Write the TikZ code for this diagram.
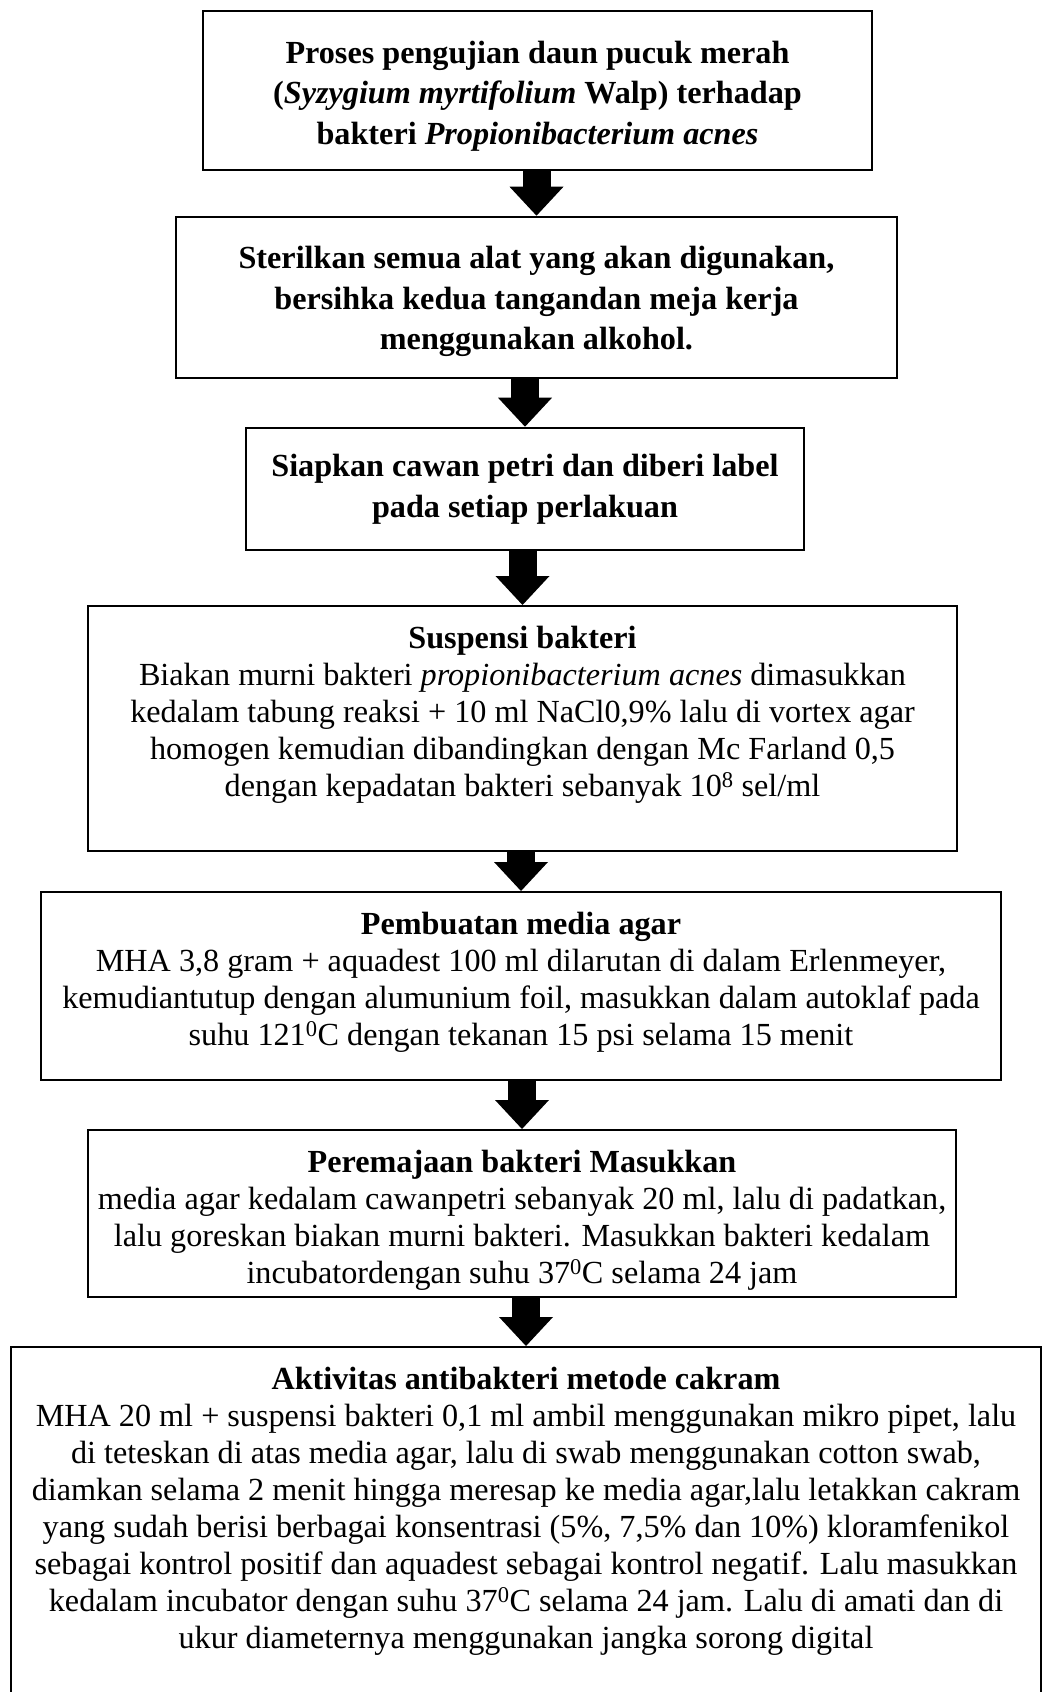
\documentclass[tikz,border=0pt]{standalone}
\usepackage{fontspec}
\setmainfont{Liberation Serif}
\usetikzlibrary{arrows.meta}
\begin{document}
\begin{tikzpicture}[x=1pt,y=-1pt,
    font=\fontsize{32.2}{37}\selectfont,
    thickbox/.style={draw,line width=2.6pt,align=center,font=\fontsize{32.2}{40.5}\selectfont\bfseries},
    thinbox/.style={draw,line width=1.5pt},
    boxtext/.style={align=center,inner sep=0pt,anchor=north},
    blockarrow/.style={line width=28pt,-{Triangle[length=29pt,width=54pt,line width=0pt]}}]
    \clip (0,0) rectangle (1042,1692);
    % langkah 1-3 (kotak tebal)
    \node[thickbox,minimum width=669pt,minimum height=159pt,text height=114pt] (proses) at (537.5,90.5)
        {Proses pengujian daun pucuk merah\\(\textit{Syzygium myrtifolium} Walp) terhadap\\bakteri \textit{Propionibacterium acnes}};
    \node[thickbox,minimum width=721pt,minimum height=161pt,text height=112pt] (steril) at (536.5,297.5)
        {Sterilkan semua alat yang akan digunakan,\\bersihka kedua tangandan meja kerja\\menggunakan alkohol.};
    \node[thickbox,minimum width=558pt,minimum height=122pt] (cawan) at (525,489)
        {Siapkan cawan petri dan diberi label\\pada setiap perlakuan};
    % langkah 4-7 (kotak tipis, teks di atas)
    \node[thinbox,minimum width=869pt,minimum height=245pt,anchor=north] (suspensi) at (522.5,605) {};
    \node[boxtext] (suspensitxt) at ([yshift=-21pt]suspensi.north)
        {\textbf{Suspensi bakteri}\\
        Biakan murni bakteri \textit{propionibacterium acnes} dimasukkan\\
        kedalam tabung reaksi + 10 ml NaCl0,9\% lalu di vortex agar\\
        homogen kemudian dibandingkan dengan Mc Farland 0,5\\
        dengan kepadatan bakteri sebanyak 10\textsuperscript{8} sel/ml};
    \node[thinbox,minimum width=960pt,minimum height=188pt,anchor=north] (media) at (521,891) {};
    \node[boxtext] (mediatxt) at ([yshift=-21pt]media.north)
        {\textbf{Pembuatan media agar}\\
        MHA 3,8 gram + aquadest 100 ml dilarutan di dalam Erlenmeyer,\\
        kemudiantutup dengan alumunium foil, masukkan dalam autoklaf pada\\
        suhu 121\textsuperscript{0}C dengan tekanan 15 psi selama 15 menit};
    \node[thinbox,minimum width=868pt,minimum height=167pt,anchor=north] (peremajaan) at (522,1129) {};
    \node[boxtext] (peremajaantxt) at ([yshift=-21pt]peremajaan.north)
        {\textbf{Peremajaan bakteri Masukkan}\\
        media agar kedalam cawanpetri sebanyak 20 ml, lalu di padatkan,\\
        lalu goreskan biakan murni bakteri. Masukkan bakteri kedalam\\
        incubatordengan suhu 37\textsuperscript{0}C selama 24 jam};
    \node[thinbox,minimum width=1030pt,minimum height=380pt,anchor=north] (aktivitas) at (526,1346) {};
    \node[boxtext] (aktivitastxt) at ([yshift=-21pt]aktivitas.north)
        {\textbf{Aktivitas antibakteri metode cakram}\\
        MHA 20 ml + suspensi bakteri 0,1 ml ambil menggunakan mikro pipet, lalu\\
        di teteskan di atas media agar, lalu di swab menggunakan cotton swab,\\
        diamkan selama 2 menit hingga meresap ke media agar,lalu letakkan cakram\\
        yang sudah berisi berbagai konsentrasi (5\%, 7,5\% dan 10\%) kloramfenikol\\
        sebagai kontrol positif dan aquadest sebagai kontrol negatif. Lalu masukkan\\
        kedalam incubator dengan suhu 37\textsuperscript{0}C selama 24 jam. Lalu di amati dan di\\
        ukur diameternya menggunakan jangka sorong digital};
    % panah
    \draw[blockarrow] (proses.south -| steril.north) -- (steril.north);
    \draw[blockarrow] (steril.south -| cawan.north) -- (cawan.north);
    \draw[blockarrow] (cawan.south -| suspensi.north) -- (suspensi.north);
    \draw[blockarrow] (suspensi.south -| media.north) -- (media.north);
    \draw[blockarrow] (media.south -| peremajaan.north) -- (peremajaan.north);
    \draw[blockarrow] (peremajaan.south -| aktivitas.north) -- (aktivitas.north);
\end{tikzpicture}
\end{document}
